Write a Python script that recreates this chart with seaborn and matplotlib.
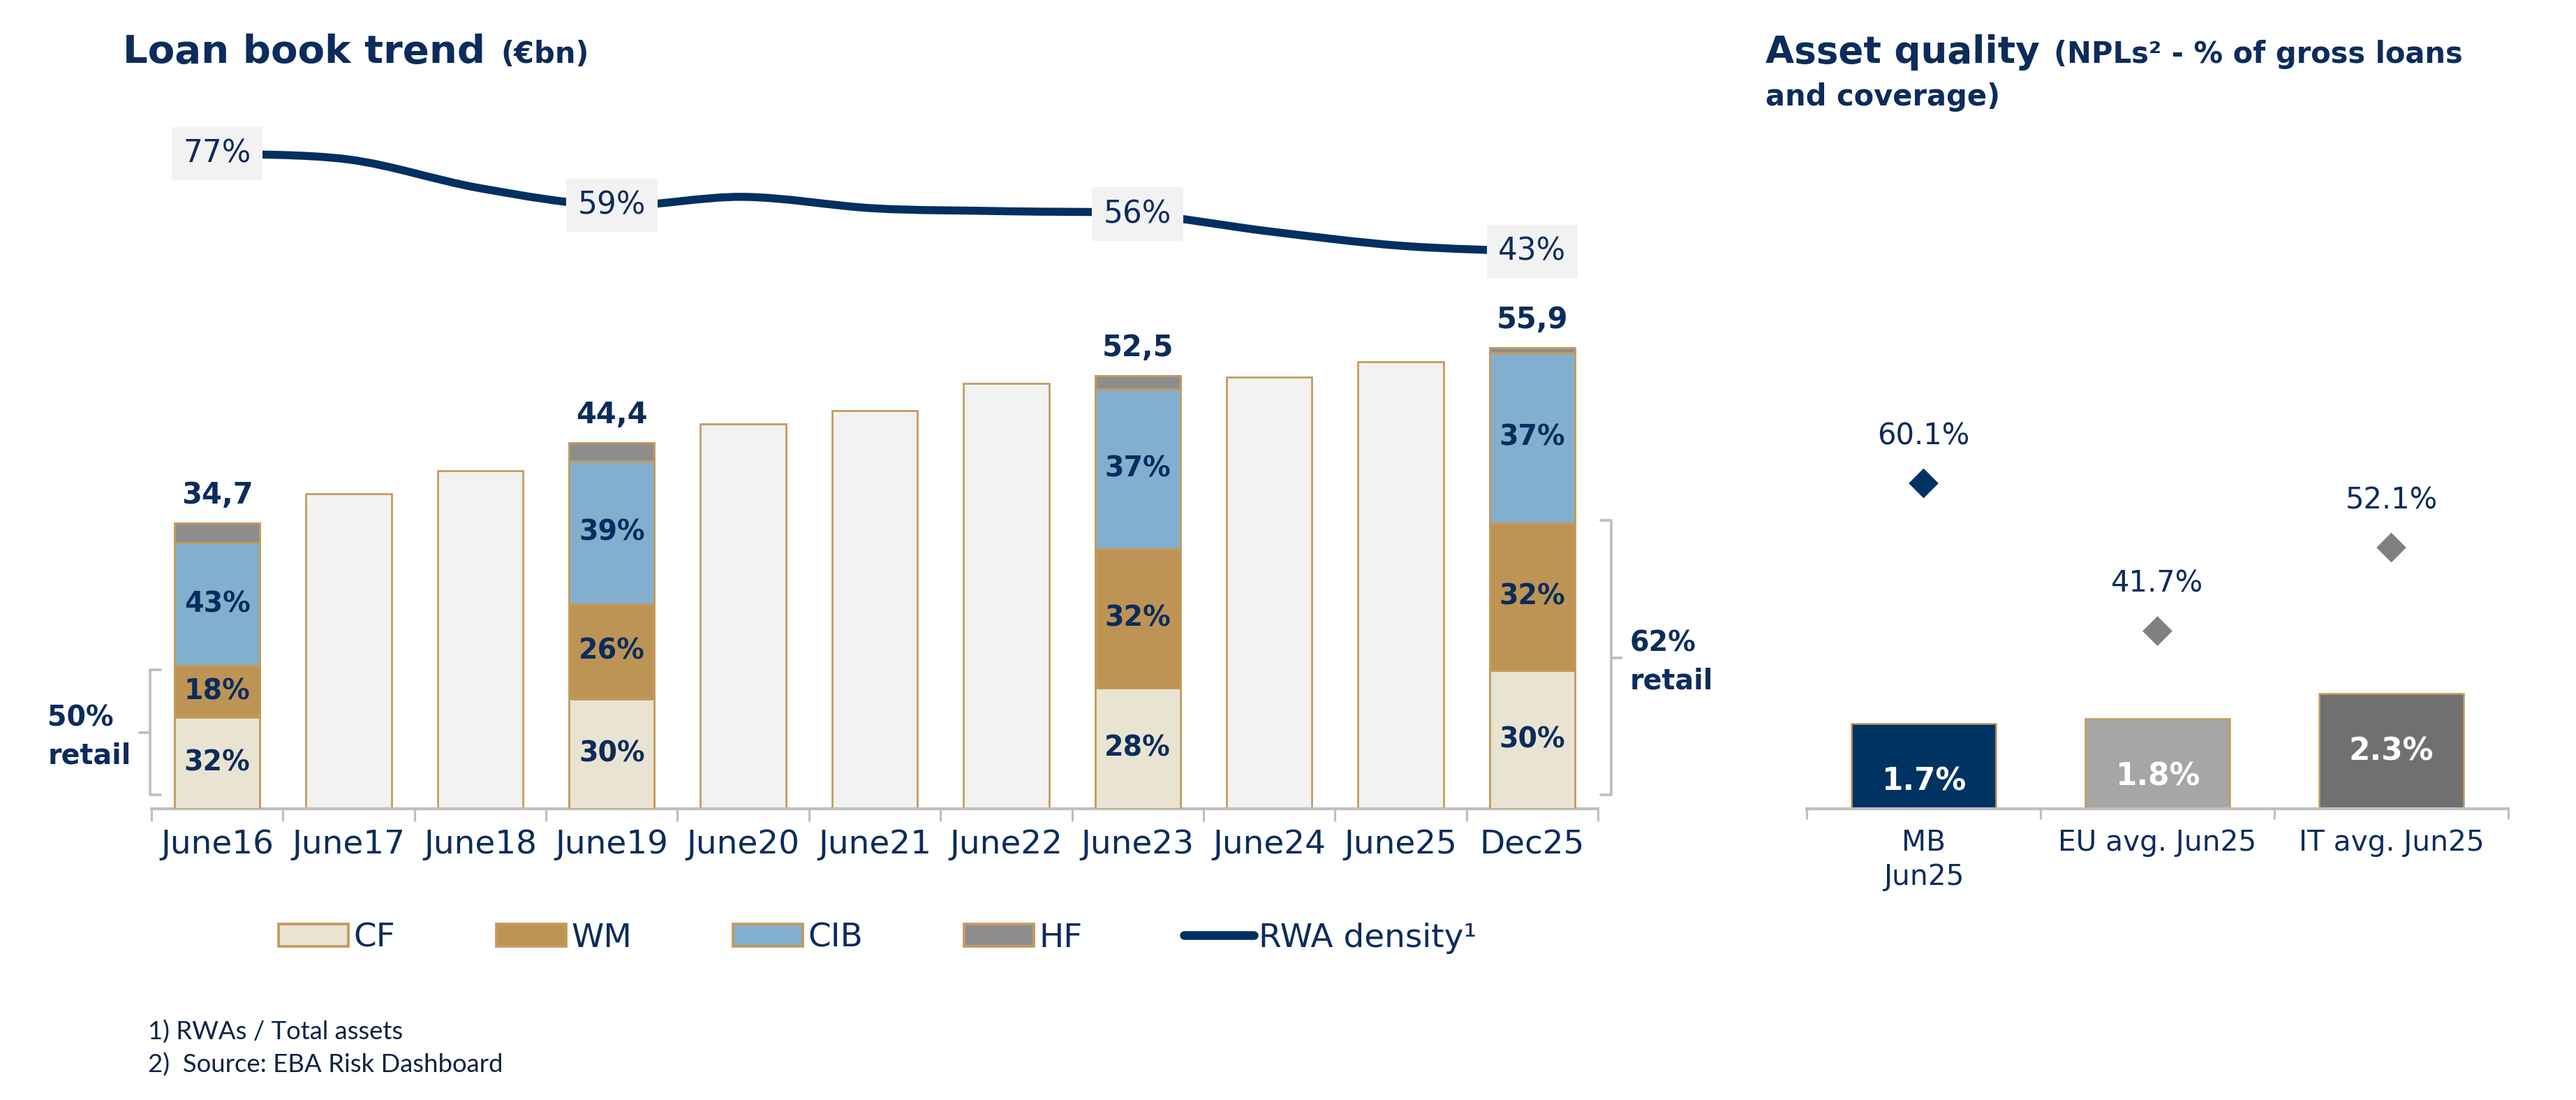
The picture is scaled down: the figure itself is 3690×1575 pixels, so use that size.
import numpy as np
import pandas as pd
import matplotlib
matplotlib.use("Agg")
import matplotlib.pyplot as plt
import seaborn as sns
from matplotlib.path import Path
from matplotlib.patches import PathPatch, Patch
from matplotlib.lines import Line2D

# ---------------- data ----------------
periods = ["June16", "June17", "June18", "June19", "June20", "June21",
           "June22", "June23", "June24", "June25", "Dec25"]
loan_book = [34.7, 38.2, 41.0, 44.4, 46.7, 48.3, 51.6, 52.5, 52.4, 54.2, 55.9]

mix_periods = ["June16", "June19", "June23", "Dec25"]
cf_pct = [32, 30, 28, 30]
wm_pct = [18, 26, 32, 32]
cib_pct = [43, 39, 37, 37]
hf_pct = [7, 5, 3, 1]

retail_periods = ["June16", "Dec25"]
retail_pct = [50, 62]

rwa_density = [77, 75, 65, 59, 62, 58, 57, 56, 50, 45, 43]
rwa_labelled = ["June16", "June19", "June23", "Dec25"]

aq_categories = ["MB\nJun25", "EU avg. Jun25", "IT avg. Jun25"]
npl_ratio = [1.7, 1.8, 2.3]
coverage = [60.1, 41.7, 52.1]

# ---------------- style ----------------
NAVY = "#0B2C5C"
LINE = "#00305F"
GOLD = "#C49A5C"
GREYBAR = "#F2F2F2"
CF_C, WM_C, CIB_C, HF_C = "#E9E4D2", "#BE9455", "#83AFCF", "#8D8D8D"
AXIS_GREY = "#BFBFBF"
BOX = "#F2F2F2"
AQ_COLORS = ["#003262", "#A6A6A6", "#707070"]
DIA_COLORS = ["#003262", "#808080", "#808080"]
FOOT = "#0E2346"

sns.set_theme(style="white")
plt.rcParams["font.family"] = ["DejaVu Sans"]

W, H, DPI = 3690, 1575, 150
fig = plt.figure(figsize=(W / DPI, H / DPI), dpi=DPI)
fig.patch.set_facecolor("white")


def fx(p):
    return p / W


def fy(p):
    return 1 - p / H


def pt(p):
    return p * 72 / DPI


# ---------------- left chart ----------------
axL = fig.add_axes([fx(217), fy(1158), (2289 - 217) / W, 970 / H])
loan_df = pd.DataFrame({"period": periods, "total": loan_book})
sns.barplot(data=loan_df, x="period", y="total", order=periods, color=GREYBAR,
            saturation=1, edgecolor=GOLD, linewidth=1.3, width=0.65,
            errorbar=None, ax=axL, zorder=2)

idx = [periods.index(p) for p in mix_periods]
tot_mix = np.array([loan_book[i] for i in idx])
bottom = np.zeros(len(idx))
for name, pcts, col in [("CF", cf_pct, CF_C), ("WM", wm_pct, WM_C),
                        ("CIB", cib_pct, CIB_C), ("HF", hf_pct, HF_C)]:
    vals = tot_mix * np.array(pcts) / 100.0
    axL.bar(idx, vals, bottom=bottom, width=0.65, color=col, edgecolor=GOLD,
            linewidth=1.3, zorder=3)
    if name != "HF":
        for x, b, v, p in zip(idx, bottom, vals, pcts):
            axL.text(x, b + v / 2, f"{p}%", ha="center", va="center",
                     fontsize=19, fontweight="bold", color=NAVY, zorder=4)
    bottom = bottom + vals

for x, t in zip(idx, tot_mix):
    axL.annotate(f"{t:.1f}".replace(".", ","), (x, t), xytext=(0, pt(40)),
                 textcoords="offset points", ha="center", va="center",
                 fontsize=20, fontweight="bold", color=NAVY, zorder=4)

axL.set_xlim(-0.5, len(periods) - 0.5)
axL.set_ylim(0, 82.2)
for s in ["top", "right", "left"]:
    axL.spines[s].set_visible(False)
axL.spines["bottom"].set_color(AXIS_GREY)
axL.spines["bottom"].set_linewidth(2)
axL.set_yticks([])
axL.set_xticks(range(len(periods)))
axL.set_xticklabels(periods)
axL.set_xticks(np.arange(-0.5, len(periods), 1), minor=True)
axL.tick_params(axis="x", which="major", length=0, pad=14, labelsize=22.5,
                labelcolor=NAVY)
axL.tick_params(axis="x", which="minor", length=pt(18), width=1.5,
                color=AXIS_GREY, bottom=True)
axL.set_xlabel("")
axL.set_ylabel("")


def bracket(ax, x, y0, y1, hook, tick):
    ax.plot([x + hook, x, x, x + hook], [y1, y1, y0, y0], color=AXIS_GREY,
            lw=1.8, clip_on=False, zorder=5, solid_joinstyle="round")
    ym = (y0 + y1) / 2
    ax.plot([x, x + tick], [ym, ym], color=AXIS_GREY, lw=1.8, clip_on=False,
            zorder=5)
    return ym


for p, r in zip(retail_periods, retail_pct):
    i = periods.index(p)
    rv = loan_book[i] * r / 100.0
    if i == 0:
        ym = bracket(axL, -0.51, 1.7, rv - 0.5, 0.08, -0.08)
        axL.text(-1.29, ym - 0.6, f"{r}%\nretail", ha="left", va="center",
                 fontsize=19, fontweight="bold", color=NAVY, linespacing=1.45,
                 clip_on=False)
    else:
        ym = bracket(axL, i + 0.6, 1.7, rv + 0.3, -0.08, 0.08)
        axL.text(i + 0.74, ym - 0.6, f"{r}%\nretail", ha="left", va="center",
                 fontsize=19, fontweight="bold", color=NAVY, linespacing=1.45,
                 clip_on=False)

# RWA density line (smooth curve through the data points)
axL2 = axL.twinx()
axL2.set_ylim(-150.8, 84.8)
axL2.axis("off")
xs = np.arange(len(periods), dtype=float)
ys = np.array(rwa_density, dtype=float)
verts = [(xs[0], ys[0])]
codes = [Path.MOVETO]
n = len(xs)
for i in range(n - 1):
    p0 = np.array([xs[max(i - 1, 0)], ys[max(i - 1, 0)]])
    p1 = np.array([xs[i], ys[i]])
    p2 = np.array([xs[i + 1], ys[i + 1]])
    p3 = np.array([xs[min(i + 2, n - 1)], ys[min(i + 2, n - 1)]])
    c1 = p1 + (p2 - p0) / 6.0
    c2 = p2 - (p3 - p1) / 6.0
    verts += [tuple(c1), tuple(c2), tuple(p2)]
    codes += [Path.CURVE4] * 3
axL2.add_patch(PathPatch(Path(verts, codes), fill=False, edgecolor=LINE,
                         lw=5.5, capstyle="butt", zorder=3))
for p in rwa_labelled:
    i = periods.index(p)
    axL2.text(i, rwa_density[i], f"{rwa_density[i]}%", ha="center",
              va="center", fontsize=21, color=NAVY, zorder=5,
              bbox=dict(boxstyle="square,pad=0.38", fc=BOX, ec="none"))

# legend
handles = [Patch(facecolor=CF_C, edgecolor=GOLD, lw=1.8),
           Patch(facecolor=WM_C, edgecolor=GOLD, lw=1.8),
           Patch(facecolor=CIB_C, edgecolor=GOLD, lw=1.8),
           Patch(facecolor=HF_C, edgecolor=GOLD, lw=1.8),
           Line2D([], [], color=LINE, lw=6)]
leg = fig.legend(handles, ["CF", "WM", "CIB", "HF", "RWA density¹"],
                 loc="center", bbox_to_anchor=(fx(1257), fy(1343)), ncol=5,
                 frameon=False, fontsize=22.5, handlelength=2.13,
                 handleheight=0.66, handletextpad=0.15, columnspacing=3.1,
                 borderpad=0, borderaxespad=0)
for t in leg.get_texts():
    t.set_color(NAVY)

# ---------------- right chart ----------------
axR = fig.add_axes([fx(2588), fy(1158), (3593 - 2588) / W, 970 / H])
aq_df = pd.DataFrame({"category": aq_categories, "npl": npl_ratio})
sns.barplot(data=aq_df, x="category", y="npl", hue="category",
            order=aq_categories, hue_order=aq_categories, palette=AQ_COLORS,
            legend=False, saturation=1, width=0.62, edgecolor=GOLD,
            linewidth=1.2, errorbar=None, ax=axR, zorder=2)
for i, v in enumerate(npl_ratio):
    axR.annotate(f"{v}%", (i, v), xytext=(0, -pt(83)),
                 textcoords="offset points", ha="center", va="center",
                 fontsize=21, fontweight="bold", color="white", zorder=4)
axR.set_xlim(-0.5, len(aq_categories) - 0.5)
axR.set_ylim(0, 13.49)
for s in ["top", "right", "left"]:
    axR.spines[s].set_visible(False)
axR.spines["bottom"].set_color(AXIS_GREY)
axR.spines["bottom"].set_linewidth(2)
axR.set_yticks([])
axR.set_xticks(range(len(aq_categories)))
axR.set_xticklabels(aq_categories)
axR.set_xticks(np.arange(-0.5, len(aq_categories), 1), minor=True)
axR.tick_params(axis="x", which="major", length=0, pad=14, labelsize=19.5,
                labelcolor=NAVY)
axR.tick_params(axis="x", which="minor", length=pt(15), width=1.5,
                color=AXIS_GREY, bottom=True)
for t in axR.get_xticklabels():
    t.set_linespacing(1.3)
axR.set_xlabel("")
axR.set_ylabel("")

axR2 = axR.twinx()
axR2.set_ylim(19.58, 103.93)
axR2.axis("off")
axR2.scatter(range(len(coverage)), coverage, marker="D", s=210,
             c=DIA_COLORS, linewidths=0, zorder=3)
for i, v in enumerate(coverage):
    axR2.annotate(f"{v}%", (i, v), xytext=(0, pt(68)),
                  textcoords="offset points", ha="center", va="center",
                  fontsize=20, color=NAVY)

# ---------------- titles & footnotes ----------------
t1 = fig.text(fx(176), fy(90), "Loan book trend", fontsize=27,
              fontweight="bold", color=NAVY, ha="left", va="baseline")
t2 = fig.text(fx(2529), fy(90), "Asset quality", fontsize=25.5,
              fontweight="bold", color=NAVY, ha="left", va="baseline")
fig.canvas.draw()
r = fig.canvas.get_renderer()
bb1 = t1.get_window_extent(r)
bb2 = t2.get_window_extent(r)
fig.text((bb1.x1 + 22) / W, fy(90), "(€bn)", fontsize=20, fontweight="bold",
         color=NAVY, ha="left", va="baseline")
fig.text((bb2.x1 + 20) / W, fy(90), "(NPLs² - % of gross loans",
         fontsize=20, fontweight="bold", color=NAVY, ha="left",
         va="baseline")
fig.text(fx(2529), fy(151), "and coverage)", fontsize=20, fontweight="bold",
         color=NAVY, ha="left", va="baseline")

fig.text(fx(212), fy(1478), "1) RWAs / Total assets", fontsize=17.5,
         family=["Lato", "DejaVu Sans"], color=FOOT, ha="left", va="center")
fig.text(fx(212), fy(1525), "2)  Source: EBA Risk Dashboard", fontsize=17.5,
         family=["Lato", "DejaVu Sans"], color=FOOT, ha="left", va="center")

fig.savefig("out.png", dpi=DPI, facecolor="white")
